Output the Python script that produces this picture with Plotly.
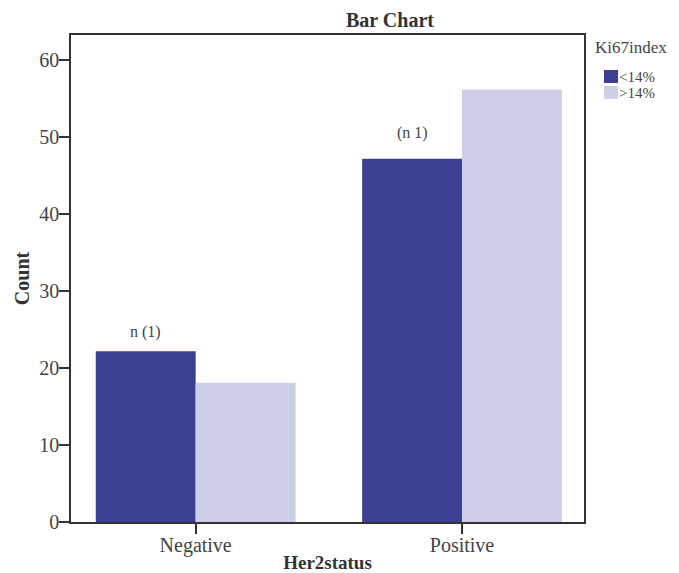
import plotly.graph_objects as go

categories = ["Negative", "Positive"]
series_names = ["<14%", ">14%"]
values_low = [22.2, 47.2]
values_high = [18.1, 56.2]
annot_texts = ["n (1)", "(n 1)"]
annot_shift = [19, 26]
y_ticks = [0, 10, 20, 30, 40, 50, 60]

colors = ["rgb(61,63,145)", "rgb(205,207,233)"]
FONT = "Liberation Serif"

W, H = 679, 573
OFF = 8  # page body offset
# target plot area on screen: left 71, right 584, top 35, bottom 522
L = 71 - OFF
T = 35 - OFF
R = W - (584 - OFF)
B = H - (522 - OFF)

x_idx = list(range(len(categories)))

fig = go.Figure()
fig.add_trace(go.Bar(x=x_idx, y=values_low, name=series_names[0], showlegend=False,
                     marker=dict(color=colors[0], line=dict(width=0))))
fig.add_trace(go.Bar(x=x_idx, y=values_high, name=series_names[1], showlegend=False,
                     marker=dict(color=colors[1], line=dict(width=0))))

for i, (t, s) in enumerate(zip(annot_texts, annot_shift)):
    fig.add_annotation(x=x_idx[i] - 0.1875, y=values_low[i], text=t,
                       showarrow=False, yshift=s, yanchor="middle",
                       font=dict(family=FONT, size=16, color="#444"))

# manual legend (paper coordinates, from screen pixels)
def px_x(p):
    return (p - OFF - L) / (W - L - R)

def px_y(p):
    return 1 - (p - OFF - T) / (H - T - B)

fig.add_annotation(xref="paper", yref="paper", x=px_x(593), y=px_y(47),
                   xanchor="left", yanchor="middle", showarrow=False,
                   text="Ki67index", font=dict(family=FONT, size=17, color="#444"))
row_tops = [70, 86]
for name, col, top in zip(series_names, colors, row_tops):
    fig.add_shape(type="rect", xref="paper", yref="paper",
                  x0=px_x(604), x1=px_x(618), y0=px_y(top + 13), y1=px_y(top),
                  fillcolor=col, line=dict(width=0))
    fig.add_annotation(xref="paper", yref="paper", x=px_x(618), y=px_y(top + 7),
                       xanchor="left", yanchor="middle", showarrow=False, borderpad=0,
                       text=name, font=dict(family=FONT, size=15, color="#444"))

fig.update_layout(
    width=W, height=H,
    margin=dict(l=L, r=R, t=T, b=B, autoexpand=False),
    paper_bgcolor="white", plot_bgcolor="white",
    barmode="group", bargap=0.25, bargroupgap=0,
    font=dict(family=FONT, size=20, color="#444"),
    title=dict(text="<b>Bar Chart</b>", x=(390 - OFF) / W, xanchor="center",
               y=1 - (20 - OFF) / H, yanchor="middle",
               font=dict(family=FONT, size=20, color="#333")),
    showlegend=False,
    xaxis=dict(tickvals=x_idx, ticktext=categories, range=[-0.468, 1.458],
               showline=True, linecolor="#333", linewidth=1.5, mirror=True,
               ticks="outside", ticklen=10, tickcolor="#333", tickwidth=1.5,
               ticklabelstandoff=-6,
               showgrid=False, zeroline=False, automargin=False,
               title=dict(text="<b>Her2status</b>", standoff=0,
                          font=dict(family=FONT, size=19, color="#333")),
               tickfont=dict(family=FONT, size=20, color="#444")),
    yaxis=dict(range=[0, 63.3], tickvals=y_ticks,
               showline=True, linecolor="#333", linewidth=1.5, mirror=True,
               ticks="outside", ticklen=10, tickcolor="#333", tickwidth=1.5,
               ticklabelstandoff=-4,
               showgrid=False, zeroline=False, automargin=False,
               title=dict(text="<b>Count</b>", standoff=4,
                          font=dict(family=FONT, size=20, color="#333")),
               tickfont=dict(family=FONT, size=20, color="#444")),
)

fig.write_html("out.html")
